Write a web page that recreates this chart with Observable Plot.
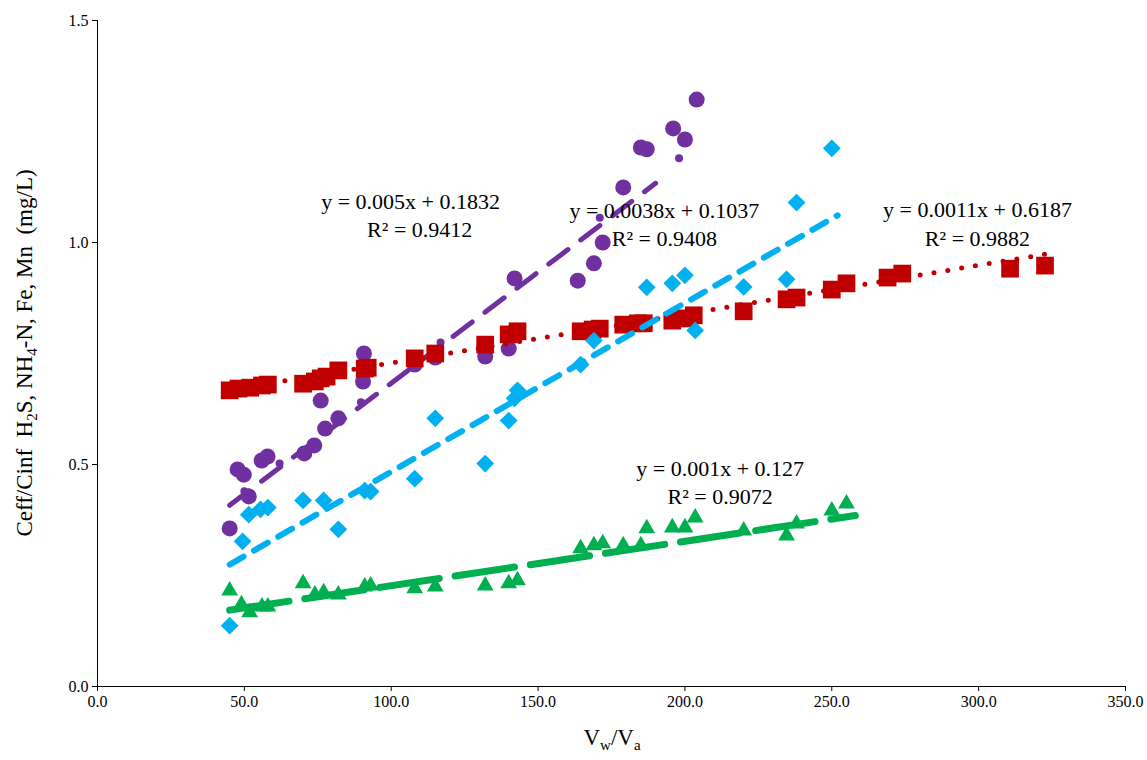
<!DOCTYPE html>
<html><head><meta charset="utf-8">
<script src="https://cdn.jsdelivr.net/npm/d3@7"></script>
<script src="https://cdn.jsdelivr.net/npm/@observablehq/plot@0.6"></script>
<style>body{margin:0;background:#fff} svg, svg text{font-family:"Liberation Serif","Times New Roman",serif !important}</style>
</head><body><div id="chart"></div>
<script>
const purpleX = [45,47.7,49.8,51.5,55.9,57.9,70.4,73.8,76,77.5,82,90.4,90.7,108,115,132,140,142,163.5,169,172,179,185,187,196,200,204];
const purpleY = [0.356,0.489,0.477,0.428,0.509,0.518,0.525,0.543,0.644,0.581,0.604,0.687,0.75,0.725,0.741,0.743,0.761,0.919,0.914,0.953,1.0,1.124,1.214,1.21,1.257,1.232,1.322];
const purpleSmallX = [50,62,89.7,116.8,171,198];
const purpleSmallY = [0.44,0.502,0.64,0.775,1.056,1.19];
const redX = [45,48,52,56,58,70,74,76,78,82,91,92,108,115,132,140,143,164.5,168.6,171,179,184,186,195.7,200,203,220,234.6,238,250,255,269,274,310.7,322.6];
const redY = [0.667,0.671,0.673,0.678,0.68,0.682,0.687,0.694,0.698,0.712,0.716,0.718,0.739,0.75,0.77,0.793,0.8,0.8,0.804,0.806,0.815,0.818,0.818,0.824,0.829,0.836,0.845,0.872,0.876,0.894,0.908,0.921,0.93,0.941,0.948];
const blueX = [45,49.4,51.5,55.5,58,70,77,82,91,93,108,115,132,140,142,143,164.5,169,187,195.7,200,203.5,220,234.6,238,250];
const blueY = [0.137,0.327,0.387,0.399,0.403,0.419,0.419,0.354,0.441,0.439,0.468,0.604,0.502,0.599,0.649,0.667,0.725,0.779,0.899,0.908,0.926,0.802,0.9,0.917,1.09,1.212];
const greenX = [45,49,51.8,56,58,70,74,77,82,91,93,108,115,132,140,143,164.5,169,172,179,185,187,195.7,200,203.5,220,234.6,238,250,255];
const greenY = [0.216,0.185,0.167,0.18,0.18,0.232,0.207,0.212,0.207,0.225,0.227,0.221,0.225,0.227,0.232,0.239,0.311,0.318,0.322,0.318,0.318,0.356,0.358,0.358,0.38,0.351,0.34,0.367,0.396,0.412];
// trendlines: [slope, intercept, xStart, xEnd]
const purpleFit = [0.005, 0.1832, 45, 190];
const blueFit = [0.0038, 0.1037, 45, 252];
const redFit = [0.0011, 0.6187, 45, 325];
const greenFit = [0.001, 0.127, 45, 258];
const labels = [
  {x:106.6, y:1.092, t:"y = 0.005x + 0.1832"},{x:109.7, y:1.029, t:"R² = 0.9412"},
  {x:193, y:1.07, t:"y = 0.0038x + 0.1037"},{x:193, y:1.007, t:"R² = 0.9408"},
  {x:299.6, y:1.074, t:"y = 0.0011x + 0.6187"},{x:299.6, y:1.009, t:"R² = 0.9882"},
  {x:212, y:0.491, t:"y = 0.001x + 0.127"},{x:212, y:0.426, t:"R² = 0.9072"}
];
const xTicks = [0,50,100,150,200,250,300,350];
const yTicks = [0,0.5,1,1.5];

const pts = (xs, ys) => xs.map((x, i) => ({x, y: ys[i]}));
const fit = ([m, b, a, e]) => [{x: a, y: m*a + b}, {x: e, y: m*e + b}];

const chart = Plot.plot({
  width: 1147, height: 760,
  marginLeft: 97, marginRight: 22, marginTop: 20, marginBottom: 74,
  style: {fontFamily: "Liberation Serif, serif", fontSize: "16px", color: "#000"},
  x: {domain: [0, 350], label: null},
  y: {domain: [0, 1.5], label: null},
  marks: [
    Plot.dot(pts(purpleX, purpleY), {x: "x", y: "y", r: 8, fill: "#7030a0"}),
    Plot.dot(pts(purpleSmallX, purpleSmallY), {x: "x", y: "y", r: 4, fill: "#7030a0"}),
    Plot.line(fit(purpleFit), {x: "x", y: "y", stroke: "#7030a0", strokeWidth: 5, strokeDasharray: "24,16", strokeLinecap: "round"}),
    Plot.dot(pts(redX, redY), {x: "x", y: "y", r: 10, symbol: "square", fill: "#c00000"}),
    Plot.line(fit(redFit), {x: "x", y: "y", stroke: "#c00000", strokeWidth: 5, strokeDasharray: "0,14", strokeLinecap: "round"}),
    Plot.dot(pts(blueX, blueY), {x: "x", y: "y", r: 8, symbol: "diamond2", fill: "#00b0f0"}),
    Plot.line(fit(blueFit), {x: "x", y: "y", stroke: "#00b0f0", strokeWidth: 6, strokeDasharray: "16,12", strokeLinecap: "round"}),
    Plot.dot(pts(greenX, greenY), {x: "x", y: "y", r: 8, symbol: "triangle2", fill: "#00b050"}),
    Plot.line(fit(greenFit), {x: "x", y: "y", stroke: "#00b050", strokeWidth: 7, strokeDasharray: "60,16", strokeLinecap: "round"}),
    Plot.text(labels, {x: "x", y: "y", text: "t", fontSize: 22, fill: "#000", fontFamily: "Liberation Serif"}),
    Plot.axisX({ticks: xTicks, tickFormat: d => d.toFixed(1), tickSize: 5, fontSize: 16}),
    Plot.axisY({ticks: yTicks, tickFormat: d => d.toFixed(1), tickSize: 5, fontSize: 16}),
    Plot.ruleX([0], {stroke: "#000"}),
    Plot.ruleY([0], {stroke: "#000"})
  ]
});
const svg = d3.select(chart);
const yl = svg.append("text").attr("transform", "translate(32,353) rotate(-90)")
  .attr("text-anchor", "middle").attr("font-size", 23).attr("font-family", "Liberation Serif, serif");
yl.append("tspan").text("Ceff/Cinf  H");
yl.append("tspan").attr("font-size", 15).attr("dy", 5).text("2");
yl.append("tspan").attr("dy", -5).text("S, NH");
yl.append("tspan").attr("font-size", 15).attr("dy", 5).text("4");
yl.append("tspan").attr("dy", -5).text("-N, Fe, Mn  (mg/L)");
const xl = svg.append("text").attr("x", 612).attr("y", 745)
  .attr("text-anchor", "middle").attr("font-size", 23).attr("font-family", "Liberation Serif, serif");
xl.append("tspan").text("V");
xl.append("tspan").attr("font-size", 15).attr("dy", 5).text("w");
xl.append("tspan").attr("dy", -5).text("/V");
xl.append("tspan").attr("font-size", 15).attr("dy", 5).text("a");
d3.select("#chart").append(() => chart);
</script></body></html>
